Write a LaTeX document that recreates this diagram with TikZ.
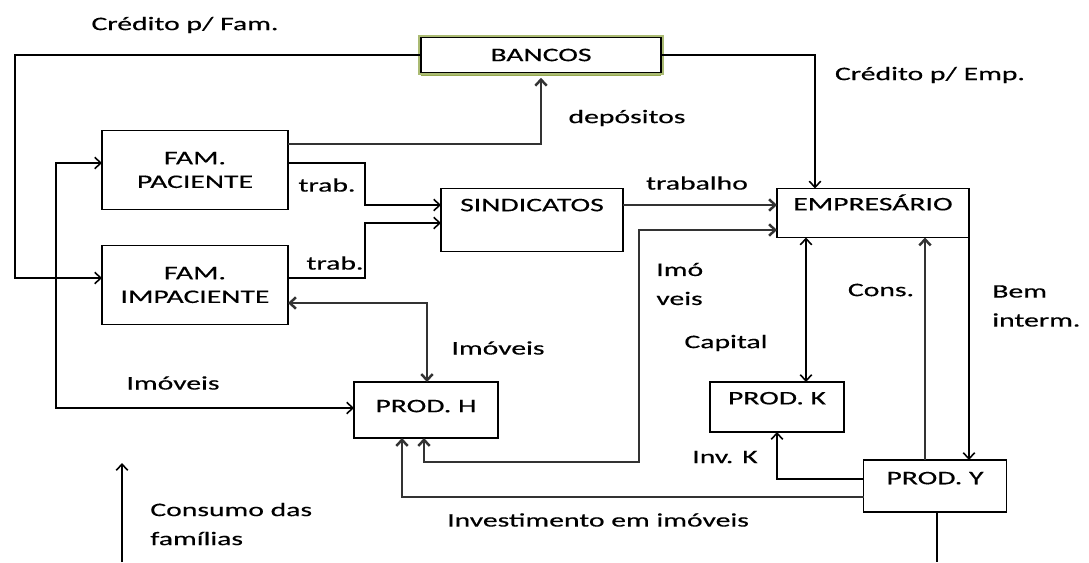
\documentclass[tikz,border=0pt]{standalone}
\usepackage{fontspec}
\setmainfont{Carlito}[FakeStretch=1.55,FakeBold=0.4]
\usetikzlibrary{arrows.meta,shadows}
\definecolor{glow}{RGB}{150,170,80}
\tikzset{
    box/.style={draw, rectangle, line width=1pt, inner sep=2pt, outer sep=0pt, align=center, font=\fontsize{10.9}{13.5}\selectfont},
    toptext/.style={text height=8pt, text depth=#1},
    flow/.style={line width=0.9pt},
    heavyflow/.style={line width=1.4pt, black!80},
    lbl/.style={font=\fontsize{10.9}{16.5}\selectfont, inner sep=0pt}
}
\begin{document}
\begin{tikzpicture}[x=0.02cm, y=-0.02cm, >={Straight Barb[length=3.5pt,width=6.5pt]}]
                    \useasboundingbox (0,0) rectangle (1089,562);

                    \node[box, minimum width=4.8cm, minimum height=0.7cm, fill=white, drop shadow={shadow xshift=0pt, shadow yshift=-2pt, fill=glow, opacity=1}, preaction={draw=glow!80, line width=3pt}] (bancos) at (541,55) {BANCOS};
                    \node[box, minimum width=3.72cm, minimum height=1.58cm] (fampac) at (195,170) {FAM.\\PACIENTE};
                    \node[box, minimum width=3.72cm, minimum height=1.58cm] (famimp) at (195,285) {FAM.\\IMPACIENTE};
                    \node[box, minimum width=3.64cm, minimum height=1.26cm, toptext=18pt] (sind) at (532,220) {SINDICATOS};
                    \node[box, minimum width=3.84cm, minimum height=0.98cm, toptext=11pt] (emp) at (873,213) {EMPRESÁRIO};
                    \node[box, minimum width=2.88cm, minimum height=1.12cm, toptext=5.5pt] (prodh) at (426,410) {PROD. H};
                    \node[box, minimum width=2.68cm, minimum height=1.0cm, toptext=11pt] (prodk) at (777,407) {PROD. K};
                    \node[box, minimum width=2.86cm, minimum height=1.04cm, toptext=10pt] (prody) at (935,486) {PROD. Y};

                    \coordinate (consbot) at (122,562);
                    \coordinate (constop) at (122,463);
                    \coordinate (ybot) at (937,562);

                    \draw[flow,->] (bancos.west) -| (15,278) -- (famimp.west |- 0,278);
                    \draw[flow,->] (bancos.east) -| (emp.north -| 815,0);
                    \draw[heavyflow,->,shorten >=3pt] (fampac.east |- 0,144) -| (bancos.south);
                    \draw[flow,->] (fampac.east |- 0,163) -| (365,205) -- (sind.west |- 0,205);
                    \draw[flow,->] (famimp.east |- 0,278) -| (365,223) -- (sind.west |- 0,223);
                    \draw[heavyflow,->] (sind.east |- 0,205) -- (emp.west |- 0,205);
                    \draw[heavyflow,<->] (emp.west |- 0,230) -| (639,462) -| (prodh.south -| 424,0);
                    \draw[flow,<->] (emp.south -| 806,0) -- (prodk.north -| 806,0);
                    \draw[heavyflow,->] (prody.north -| 925,0) -- (emp.south -| 925,0);
                    \draw[flow,->] (emp.south east) -- (prody.north -| emp.east);
                    \draw[flow,->] (prody.west |- 0,479) -| (prodk.south);
                    \draw[heavyflow,->] (prody.west |- 0,497) -| (prodh.south -| 402,0);
                    \draw[heavyflow,<->] (famimp.east |- 0,303) -| (prodh.north -| 427,0);
                    \draw[flow,<->] (fampac.west |- 0,163) -| (56,408) -- (prodh.west |- 0,408);
                    \draw[flow,->] (consbot) -- (constop);
                    \draw[flow] (prody.south -| ybot) -- (ybot);

                    \node[lbl] (lcredfam) at (185,25) {Crédito p/ Fam.};
                    \node[lbl] (lcredemp) at (930,75) {Crédito p/ Emp.};
                    \node[lbl] (ldep) at (627,118) {depósitos};
                    \node[lbl] (ltraba) at (327,185) {trab.};
                    \node[lbl] (ltrabb) at (335,263) {trab.};
                    \node[lbl] (ltrabalho) at (697,183) {trabalho};
                    \node[lbl, align=left, anchor=west] (limo) at (656,284) {Imó\\veis};
                    \node[lbl] (lcons) at (881,290) {Cons.};
                    \node[lbl, align=left, anchor=west] (lbem) at (992,306) {Bem\\interm.};
                    \node[lbl] (lcap) at (726,343) {Capital};
                    \node[lbl] (limovh) at (498,348) {Imóveis};
                    \node[lbl] (limovl) at (173,383) {Imóveis};
                    \node[lbl] (linvk) at (725,457) {Inv. K};
                    \node[lbl, align=left, anchor=west] (lconsumo) at (150,524) {Consumo das\\famílias};
                    \node[lbl] (linv) at (598,520) {Investimento em imóveis};
\end{tikzpicture}
\end{document}
